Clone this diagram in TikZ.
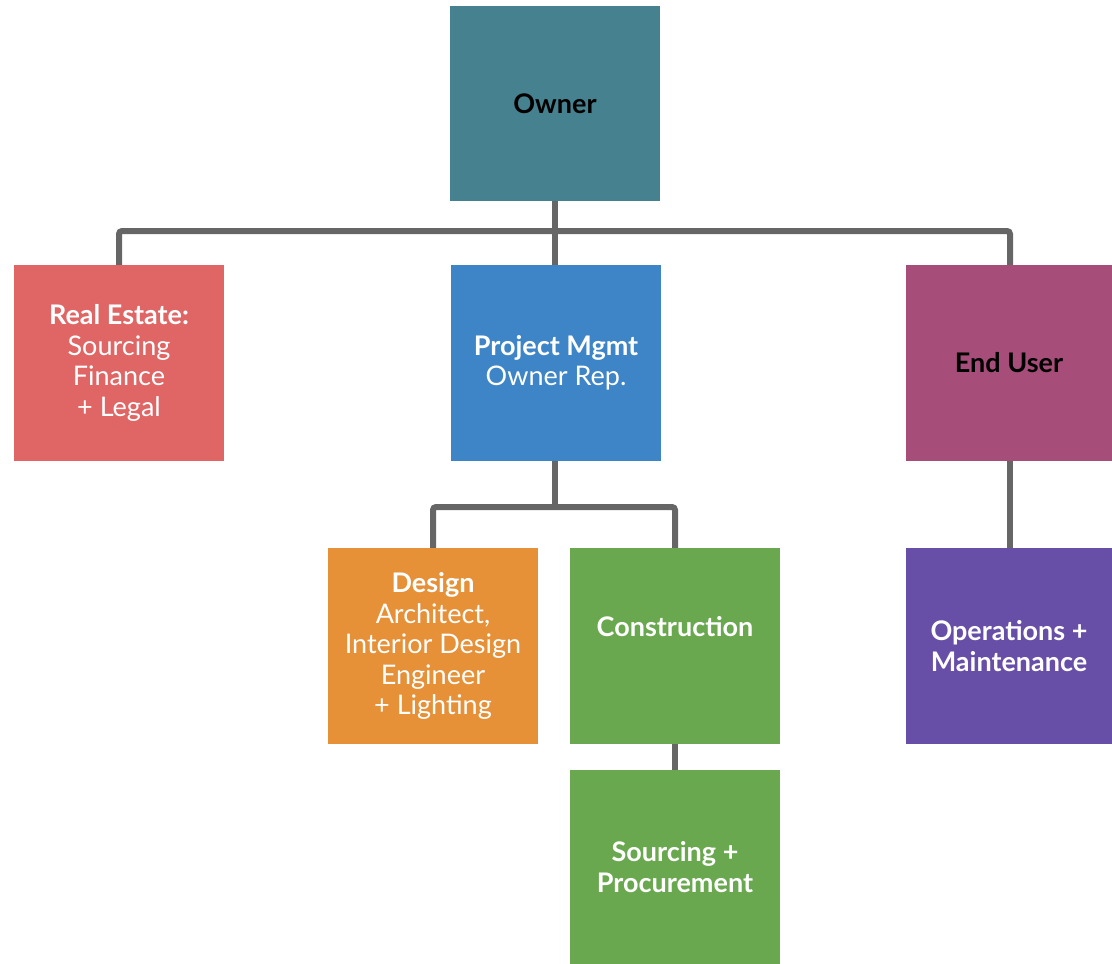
\documentclass[tikz,border=0pt]{standalone}
\usepackage{fontspec}
\setmainfont{Lato}
\definecolor{cowner}{HTML}{45818E}
\definecolor{cred}{HTML}{E06666}
\definecolor{cblue}{HTML}{3D85C6}
\definecolor{cplum}{HTML}{A64D79}
\definecolor{corange}{HTML}{E69138}
\definecolor{cgreen}{HTML}{6AA84F}
\definecolor{cpurple}{HTML}{674EA7}
\definecolor{cline}{HTML}{666666}
\tikzset{
  box/.style={rectangle, inner sep=0pt, minimum width=210pt, minimum height=196pt,
    align=center, text=white, font=\fontsize{27}{30.5}\selectfont},
  conn/.style={draw=cline, line width=6pt, rounded corners=3pt},
}
\begin{document}
\begin{tikzpicture}[x=1pt,y=-1pt]
\useasboundingbox (0,0) rectangle (1112,964);
\node[box, fill=cowner, text=black, minimum height=195pt] (owner) at (555,103.5) {\textbf{Owner}};
\node[box, fill=cred] (re) at (119,363) {\textbf{Real Estate:}\\Sourcing\\Finance\\+ Legal};
\node[box, fill=cblue] (pm) at (556,363) {\textbf{Project Mgmt}\\Owner Rep.};
\node[box, fill=cplum, text=black, minimum width=206pt] (eu) at (1009,363) {\textbf{End User}};
\node[box, fill=corange] (des) at (433,646) {\textbf{Design}\\Architect,\\Interior Design\\Engineer\\+ Lighting};
\node[box, fill=cgreen] (con) at (675,646) {\textbf{Construction}\\\strut};
\node[box, fill=cgreen, minimum height=194pt] (src) at (675,867) {\textbf{Sourcing +}\\\textbf{Procurement}};
\node[box, fill=cpurple, minimum width=206pt] (ops) at (1009,646) {\textbf{Operations +}\\\textbf{Maintenance}};
\coordinate (bus1) at (0,231);
\coordinate (bus2) at (0,507);
\draw[conn] (re.north) -- (re.north |- bus1) -- ([xshift=1pt]eu.north |- bus1) -- ([xshift=1pt]eu.north);
\draw[conn] (owner.south) -- (owner.south |- pm.north);
\draw[conn] (des.north) -- (des.north |- bus2) -- (con.north |- bus2) -- (con.north);
\draw[conn] ([xshift=-1pt]pm.south) -- ([xshift=-1pt]pm.south |- bus2);
\draw[conn] ([xshift=1pt]eu.south) -- ([xshift=1pt]ops.north);
\draw[conn] (con.south) -- (src.north);
\end{tikzpicture}
\end{document}
